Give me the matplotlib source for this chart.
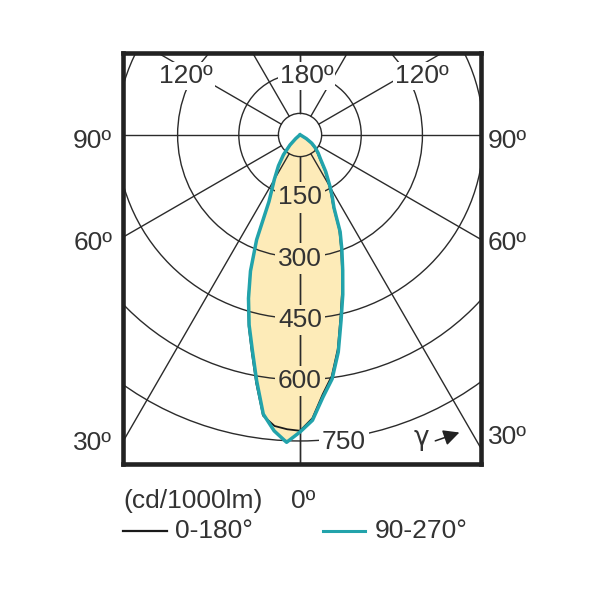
import numpy as np
import matplotlib
matplotlib.use('Agg')
import matplotlib.pyplot as plt
from matplotlib.patches import Circle

plt.rcParams['font.family'] = ['Liberation Sans', 'DejaVu Sans']

# luminous intensity (cd/1000lm) per gamma angle, for each C-plane half
gamma = [0, 2.5, 5, 7.5, 10, 12.5, 15, 17.5, 20, 22.5, 25, 27.5, 30, 35, 40, 45, 50, 55, 60, 70, 80, 90]
c0 = [725, 695, 638, 596, 533, 458, 398, 342, 294, 251, 192, 166, 143, 106, 75, 59, 45, 31, 15, 2, 0, 0]
c180 = [725, 722, 716, 694, 618, 546, 486, 423, 356, 278, 180, 147, 125, 91, 62, 34, 13, 3, 0, 0, 0, 0]
c90 = [728, 700, 645, 603, 540, 465, 405, 348, 300, 257, 197, 171, 148, 110, 79, 63, 49, 35, 18, 3, 0, 0]
c270 = [728, 754, 728, 690, 612, 540, 482, 420, 355, 278, 180, 148, 126, 92, 63, 35, 14, 4, 0, 0, 0, 0]

rings = [150, 300, 450, 600, 750]
ring_labels = ['150', '300', '450', '600', '750']
spokes = [0, 30, 60, 90, 120, 150, 180]

grid_col = '#2b2b2b'
text_col = '#333333'
fill_col = '#fdebb8'
teal = '#22a3ab'
fs = 19


def outline(right, left):
    g = np.radians(gamma)
    r = np.array(right)
    l = np.array(left)
    x = np.concatenate([-l[::-1] * np.sin(g[::-1]), r * np.sin(g)])
    y = np.concatenate([-l[::-1] * np.cos(g[::-1]), -r * np.cos(g)])
    return x, y


fig = plt.figure(figsize=(6, 6), dpi=100)
ax = fig.add_axes([0.2042, 0.2267, 0.5967, 0.685])
ax.set_xlim(-435, 442.4)
ax.set_ylim(-806.4, 201)
ax.set_xticks([])
ax.set_yticks([])
for s in ax.spines.values():
    s.set_linewidth(3.3)
    s.set_color('#222222')
    s.set_zorder(10)

# beam fill
xt, yt = outline(c90, c270)
ax.fill(xt, yt, color=fill_col, lw=0, zorder=1)

# grid: rings, centre circle, spokes
for r in rings:
    ax.add_patch(Circle((0, 0), r, fill=False, ec=grid_col, lw=1.0, zorder=2))
ax.add_patch(Circle((0, 0), 53, fill=False, ec=grid_col, lw=1.0, zorder=2))
for a in spokes:
    t = np.radians(a)
    for side in (-1, 1):
        ax.plot([side * 53 * np.sin(t), side * 1500 * np.sin(t)],
                [-53 * np.cos(t), -1500 * np.cos(t)], color=grid_col, lw=1.0, zorder=2)

# ring labels
for r, lab in zip(rings, ring_labels):
    if r == 750:
        ax.text(108, -(r + 20), lab, ha='center', va='baseline', fontsize=fs, color=text_col, zorder=3,
                bbox=dict(boxstyle='square,pad=0.12', fc='white', ec='none'))
    else:
        ax.text(0, -(r + 20), lab, ha='center', va='baseline', fontsize=fs, color=text_col, zorder=3,
                bbox=dict(boxstyle='square,pad=0.12', fc=fill_col, ec='none'))

# angle labels inside the box (top)
for x, lab in [(-279, '120º'), (16, '180º'), (298, '120º')]:
    ax.text(x, 127, lab, ha='center', va='baseline', fontsize=fs, color=text_col, zorder=3,
            bbox=dict(boxstyle='square,pad=0.08', fc='white', ec='none'))

# angle labels outside the box
for y, lab in [(-33, '90º'), (-281, '60º'), (-771, '30º')]:
    ax.text(-508, y, lab, ha='center', va='baseline', fontsize=fs, color=text_col, clip_on=False)
for y, lab in [(-33, '90º'), (-281, '60º'), (-757, '30º')]:
    ax.text(508, y, lab, ha='center', va='baseline', fontsize=fs, color=text_col, clip_on=False)

# gamma arrow
ax.text(297, -742, 'γ', ha='center', va='center', fontsize=fs, color=text_col, zorder=3,
        family='DejaVu Sans')
ax.annotate('', xy=(397, -727), xytext=(325, -752),
            arrowprops=dict(arrowstyle='-|>', color='#222222', lw=1.1, mutation_scale=24), zorder=3)

# curves
xb, yb = outline(c0, c180)
ax.plot(xb, yb, color='#1a1a1a', lw=1.3, zorder=4, solid_joinstyle='round')
ax.plot(xt, yt, color=teal, lw=2.5, zorder=5, solid_joinstyle='round')

# units and legend under the box
fig.text(123 / 600, 1 - 508 / 600, '(cd/1000lm)', fontsize=fs, color=text_col, va='baseline')
fig.text(291 / 600, 1 - 508 / 600, '0º', fontsize=fs, color=text_col, va='baseline')
fig.add_artist(plt.Line2D([123 / 600, 167 / 600], [1 - 531 / 600] * 2, color='#1a1a1a', lw=1.6))
fig.text(175 / 600, 1 - 538 / 600, '0-180°', fontsize=fs, color=text_col, va='baseline')
fig.add_artist(plt.Line2D([323 / 600, 365 / 600], [1 - 531 / 600] * 2, color=teal, lw=2.2))
fig.text(375 / 600, 1 - 538 / 600, '90-270°', fontsize=fs, color=text_col, va='baseline')

fig.savefig('out.png', dpi=100, facecolor='white')
